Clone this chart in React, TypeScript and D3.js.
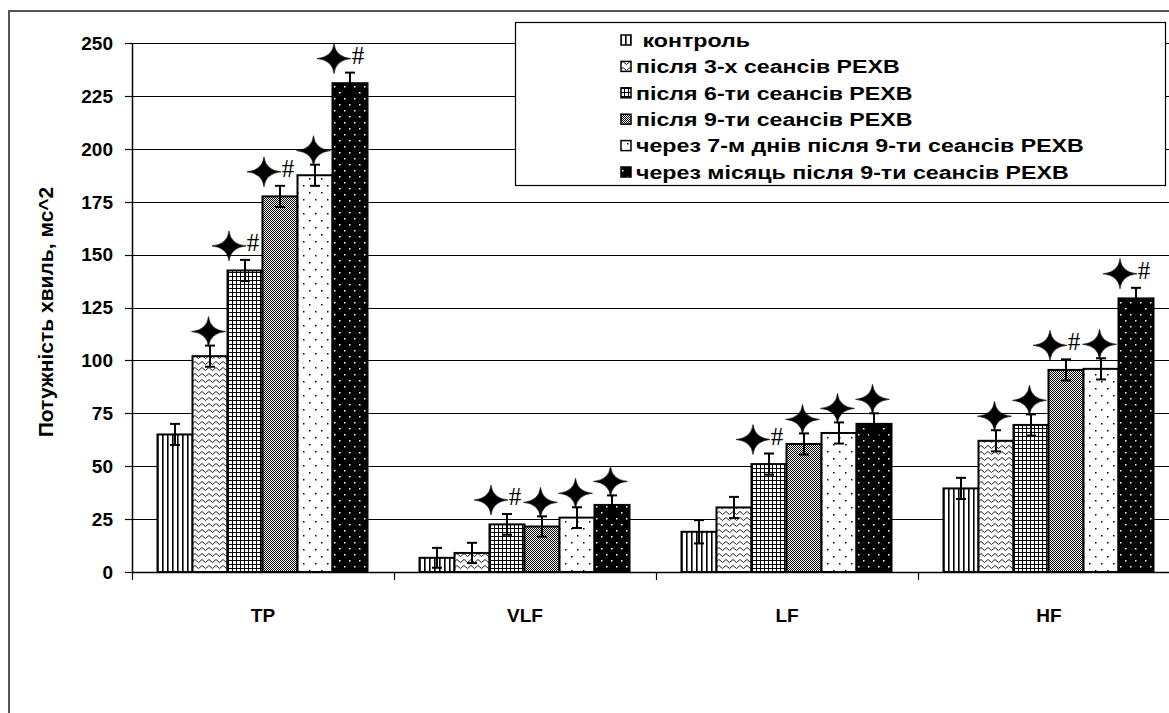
import React, { useEffect, useRef } from "react";
import * as d3 from "d3";

const W = 1169;
const H = 713;

const categories = ["TP", "VLF", "LF", "HF"];
const seriesNames = [
  " контроль",
  "після 3-х сеансів РЕХВ",
  "після 6-ти сеансів РЕХВ",
  "після 9-ти сеансів РЕХВ",
  "через 7-м днів після 9-ти сеансів РЕХВ",
  "через місяць після 9-ти сеансів РЕХВ",
];
// values per series, in category order TP, VLF, LF, HF
const control = [65, 6.7, 19, 39.5];
const after3 = [102, 9, 30.5, 62];
const after6 = [142.5, 22.5, 51, 69.5];
const after9 = [177.5, 21.5, 60.5, 95.5];
const after7days = [187.5, 25.7, 65.7, 96];
const afterMonth = [231, 31.7, 70, 129.3];
const seriesValues = [control, after3, after6, after9, after7days, afterMonth];
// error (±) per series
const control_err = [5, 4.7, 5.5, 5];
const after3_err = [5, 4.8, 5, 5];
const after6_err = [5, 4.9, 5, 5];
const after9_err = [5, 4.8, 5, 5];
const after7days_err = [5, 4.9, 5, 5];
const afterMonth_err = [5, 4.5, 5, 5];
const seriesErrors = [control_err, after3_err, after6_err, after9_err, after7days_err, afterMonth_err];
// significance marks per category: "*" star, "*#" star + hash
const marksTP = ["", "*", "*#", "*#", "*", "*#"];
const marksVLF = ["", "", "*#", "*", "*", "*"];
const marksLF = ["", "", "*#", "*", "*", "*"];
const marksHF = ["", "*", "*", "*#", "*", "*#"];
const marks = [marksTP, marksVLF, marksLF, marksHF];
const yTicks = [0, 25, 50, 75, 100, 125, 150, 175, 200, 225, 250];

const patternIds = ["pVert", "pZig", "pGrid", "pCheck", "pDots", "pBlackDots"];
const FONT = "Arial, 'Liberation Sans', sans-serif";

export default function App() {
  const ref = useRef<SVGSVGElement>(null);

  useEffect(() => {
    const svg = d3.select(ref.current);
    svg.selectAll("*").remove();

    // patterns
    const defs = svg.append("defs");
    const pv = defs.append("pattern").attr("id", "pVert").attr("patternUnits", "userSpaceOnUse")
      .attr("width", 5).attr("height", 5);
    pv.append("rect").attr("width", 5).attr("height", 5).attr("fill", "#fff");
    pv.append("rect").attr("x", 0).attr("width", 1.6).attr("height", 5).attr("fill", "#000");

    const pz = defs.append("pattern").attr("id", "pZig").attr("patternUnits", "userSpaceOnUse")
      .attr("width", 7).attr("height", 6);
    pz.append("rect").attr("width", 7).attr("height", 6).attr("fill", "#fff");
    pz.append("path").attr("d", "M0,1.5 L3.5,4.5 L7,1.5").attr("fill", "none")
      .attr("stroke", "#222").attr("stroke-width", 1);

    const pg = defs.append("pattern").attr("id", "pGrid").attr("patternUnits", "userSpaceOnUse")
      .attr("width", 4).attr("height", 4);
    pg.append("rect").attr("width", 4).attr("height", 4).attr("fill", "#fff");
    pg.append("rect").attr("width", 4).attr("height", 1).attr("fill", "#000");
    pg.append("rect").attr("width", 1).attr("height", 4).attr("fill", "#000");

    const pc = defs.append("pattern").attr("id", "pCheck").attr("patternUnits", "userSpaceOnUse")
      .attr("width", 2).attr("height", 2);
    pc.append("rect").attr("width", 2).attr("height", 2).attr("fill", "#fff");
    pc.append("rect").attr("width", 1).attr("height", 1).attr("fill", "#000");
    pc.append("rect").attr("x", 1).attr("y", 1).attr("width", 1).attr("height", 1).attr("fill", "#000");

    const pd = defs.append("pattern").attr("id", "pDots").attr("patternUnits", "userSpaceOnUse")
      .attr("width", 12).attr("height", 14);
    pd.append("rect").attr("width", 12).attr("height", 14).attr("fill", "#fff");
    pd.append("rect").attr("x", 3).attr("y", 3).attr("width", 1.5).attr("height", 1.5).attr("fill", "#000");
    pd.append("rect").attr("x", 9).attr("y", 10).attr("width", 1.5).attr("height", 1.5).attr("fill", "#000");

    const pb = defs.append("pattern").attr("id", "pBlackDots").attr("patternUnits", "userSpaceOnUse")
      .attr("width", 10).attr("height", 12);
    pb.append("rect").attr("width", 10).attr("height", 12).attr("fill", "#000");
    pb.append("rect").attr("x", 2).attr("y", 2).attr("width", 1.5).attr("height", 1.5).attr("fill", "#fff");
    pb.append("rect").attr("x", 7).attr("y", 8).attr("width", 1.5).attr("height", 1.5).attr("fill", "#fff");

    // background
    svg.append("rect").attr("width", W).attr("height", H).attr("fill", "#fff");

    // outer frame (left and top edges visible)
    svg.append("path").attr("d", `M9,${H} V11 H${W}`).attr("fill", "none")
      .attr("stroke", "#555").attr("stroke-width", 2);

    const plotLeft = 132;
    const plotRight = 1180;
    const y = d3.scaleLinear().domain([0, 250]).range([572, 43]);
    const x = d3.scaleBand().domain(categories).range([plotLeft, plotRight]).paddingInner(0).paddingOuter(0);
    const inner = d3.scaleBand<number>().domain(d3.range(seriesNames.length))
      .range([25.5, x.bandwidth() - 26.5]).paddingInner(0);

    // gridlines
    svg.append("g").selectAll("line").data(yTicks.filter((t) => t > 0)).join("line")
      .attr("x1", plotLeft).attr("x2", W)
      .attr("y1", (d) => Math.round(y(d)) + 0.5).attr("y2", (d) => Math.round(y(d)) + 0.5)
      .attr("stroke", "#000").attr("stroke-width", 1.2);

    // y axis
    const ya = svg.append("g");
    ya.append("line").attr("x1", plotLeft + 0.5).attr("x2", plotLeft + 0.5)
      .attr("y1", y(250)).attr("y2", y(0)).attr("stroke", "#000").attr("stroke-width", 1.5);
    ya.selectAll("line.tick").data(yTicks).join("line").attr("class", "tick")
      .attr("x1", plotLeft - 7).attr("x2", plotLeft)
      .attr("y1", (d) => Math.round(y(d)) + 0.5).attr("y2", (d) => Math.round(y(d)) + 0.5)
      .attr("stroke", "#000").attr("stroke-width", 1.2);
    ya.selectAll("text").data(yTicks).join("text")
      .attr("x", 113).attr("y", (d) => y(d)).attr("dy", "0.36em")
      .attr("text-anchor", "end").attr("font-family", FONT)
      .attr("font-weight", "bold").attr("font-size", 19).text((d) => String(d));

    svg.append("text")
      .attr("transform", `translate(47,312) rotate(-90)`)
      .attr("text-anchor", "middle").attr("dominant-baseline", "middle")
      .attr("font-family", FONT).attr("font-weight", "bold")
      .attr("font-size", 21).text("Потужність хвиль, мс^2");

    // bars
    const groups = svg.append("g").selectAll("g").data(categories).join("g")
      .attr("transform", (d) => `translate(${x(d)},0)`);

    groups.each(function (cat, ci) {
      const g = d3.select(this);
      seriesValues.forEach((vals, si) => {
        const v = vals[ci];
        const bx = inner(si)!;
        const bw = inner.bandwidth();
        g.append("rect").attr("x", bx).attr("y", y(v)).attr("width", bw).attr("height", y(0) - y(v))
          .attr("fill", `url(#${patternIds[si]})`).attr("stroke", "#000").attr("stroke-width", 2);
      });
      // error bars
      seriesValues.forEach((vals, si) => {
        const v = vals[ci];
        const e = seriesErrors[si][ci];
        const cx = inner(si)! + inner.bandwidth() / 2;
        g.append("line").attr("x1", cx).attr("x2", cx).attr("y1", y(v + e)).attr("y2", y(v - e))
          .attr("stroke", "#000").attr("stroke-width", 2);
        [v + e, v - e].forEach((yy) => {
          g.append("line").attr("x1", cx - 5).attr("x2", cx + 5).attr("y1", y(yy)).attr("y2", y(yy))
            .attr("stroke", "#000").attr("stroke-width", 2);
        });
      });
      // significance marks
      seriesValues.forEach((vals, si) => {
        const m = marks[ci][si];
        if (!m) return;
        const v = vals[ci];
        const e = seriesErrors[si][ci];
        const cx = inner(si)! + inner.bandwidth() / 2;
        const sy = y(v + e) - 14;
        const hasHash = m.includes("#");
        const sx = hasHash ? cx - 16 : cx - 1.5;
        g.append("path")
          .attr("transform", `translate(${sx},${sy})`)
          .attr("d", "M17,0 Q1.5,1.5 0,15 Q-1.5,1.5 -17,0 Q-1.5,-1.5 0,-15 Q1.5,-1.5 17,0 Z")
          .attr("fill", "#000").attr("stroke", "#000").attr("stroke-width", 0.6);
        if (hasHash) {
          g.append("text").attr("x", cx + 8).attr("y", sy + 5)
            .attr("text-anchor", "middle")
            .attr("font-family", "'Times New Roman', 'Liberation Serif', serif")
            .attr("font-size", 25).text("#");
        }
      });
    });

    // x axis
    svg.append("line").attr("x1", plotLeft).attr("x2", W).attr("y1", y(0) + 0.5).attr("y2", y(0) + 0.5)
      .attr("stroke", "#000").attr("stroke-width", 1.5);
    svg.append("g").selectAll("line").data(categories).join("line")
      .attr("x1", (d) => x(d)! + 0.5).attr("x2", (d) => x(d)! + 0.5)
      .attr("y1", y(0)).attr("y2", y(0) + 8).attr("stroke", "#000").attr("stroke-width", 1.2);
    svg.append("g").selectAll("text").data(categories).join("text")
      .attr("x", (d) => x(d)! + x.bandwidth() / 2).attr("y", 615).attr("dy", "0.35em")
      .attr("text-anchor", "middle").attr("font-family", FONT)
      .attr("font-weight", "bold").attr("font-size", 19).text((d) => d);

    // legend
    const lg = svg.append("g");
    lg.append("rect").attr("x", 515.5).attr("y", 22.5).attr("width", 650).attr("height", 163)
      .attr("fill", "#fff").attr("stroke", "#000").attr("stroke-width", 1.2);
    const ly = d3.scalePoint<number>().domain(d3.range(seriesNames.length)).range([40, 172]);
    seriesNames.forEach((name, i) => {
      lg.append("rect").attr("x", 621).attr("y", ly(i)! - 5).attr("width", 10).attr("height", 10)
        .attr("fill", `url(#${patternIds[i]})`).attr("stroke", "#000").attr("stroke-width", 1.5);
      lg.append("text").attr("transform", `translate(636,${ly(i)}) scale(1.22,1)`).attr("dy", "0.36em")
        .attr("font-family", FONT).attr("font-weight", "bold")
        .attr("font-size", 19).attr("xml:space", "preserve").style("white-space", "pre").text(name);
    });
  }, []);

  return (
    <svg ref={ref} width={W} height={H} style={{ position: "absolute", left: 0, top: 0, display: "block" }} />
  );
}
